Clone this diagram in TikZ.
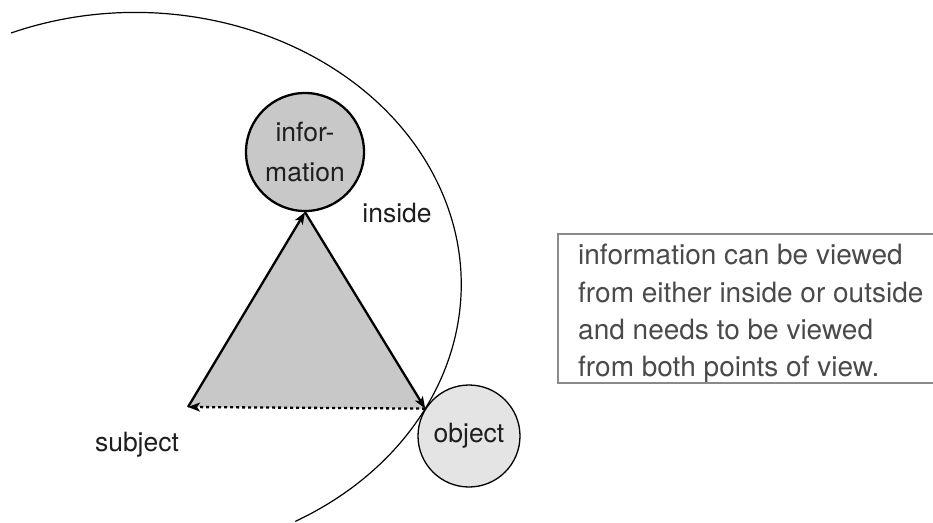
\documentclass[tikz,border=0pt]{standalone}
\usepackage{fontspec}
\setmainfont{TeX Gyre Heros}
\usetikzlibrary{arrows.meta, positioning}
\definecolor{infogray}{HTML}{C8C8C8}
\definecolor{objgray}{HTML}{E4E4E4}
\definecolor{labeltext}{HTML}{1E1E1E}
\definecolor{notetext}{HTML}{4A4A4A}
\definecolor{noteline}{HTML}{8A8A8A}

\begin{document}
\begin{tikzpicture}[x=1pt, y=-1pt,
  every node/.style={font=\fontsize{26.5}{34}\selectfont, text=labeltext},
  ring/.style={circle, draw, inner sep=0pt},
  edge/.style={line width=2.3pt, -{Stealth[length=12pt, width=9pt, inset=3pt]}}]

\useasboundingbox (0,0) rectangle (933,522);

% the inside region
\draw[line width=1.2pt] (11,33) arc[start angle=-112.4, end angle=60.6, x radius=326, y radius=272];

\node[ring, fill=infogray, line width=2.3pt, minimum size=118pt, align=center] (info) at (305,152) {infor-\\[6pt]mation};
\node[ring, fill=objgray, line width=1.3pt, minimum size=102pt] (obj) at (469,436) {object};
\coordinate (subj) at (188,407);
\node[anchor=base] (subjlabel) at (137,451) {subject};
\node[anchor=base] (inlabel) at (397,222) {inside};

% triangle
\fill[infogray] (subj) -- (info.south) -- (obj.148) -- cycle;
\draw[edge] (subj) -- (info.south);
\draw[edge] (info.south) -- (obj.148);
\draw[edge, dash pattern=on 3pt off 3pt] (obj.148) -- (subj);

% note
\node[anchor=north west, align=left, inner sep=0pt, text=notetext, font=\fontsize{28}{30.5}\selectfont] (note) at (578,244) {information can be viewed\\[7pt]from either inside or outside\\[7pt]and needs to be viewed\\[6pt]from both points of view.};
\draw[noteline, line width=1.2pt] (940,234) -| (558,383) -- (940,383);

\end{tikzpicture}
\end{document}
